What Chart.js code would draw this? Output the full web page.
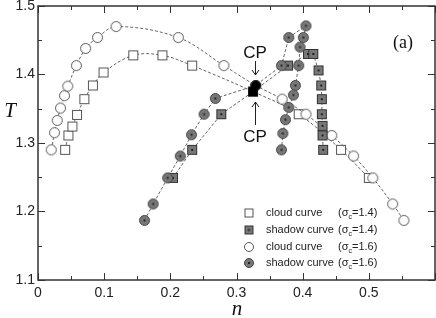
<!DOCTYPE html>
<html><head><meta charset="utf-8">
<script src="https://cdn.jsdelivr.net/npm/chart.js@4"></script>
<style>html,body{margin:0;padding:0;background:#fff}#wrap{width:436px;height:318px}</style>
</head><body><div id="wrap"><canvas id="c" width="436" height="318"></canvas></div>
<script>
// ---- data ----
const cloud14_n = [0.041,0.046,0.052,0.059,0.070,0.083,0.099,0.144,0.188,0.233,0.325,0.394,0.458,0.500];
const cloud14_T = [1.290,1.311,1.324,1.341,1.364,1.384,1.403,1.428,1.428,1.413,1.375,1.342,1.290,1.249];
const shadow14_n = [0.204,0.233,0.277,0.325,0.378,0.408,0.416,0.424,0.428,0.429,0.429,0.430,0.430,0.431];
const shadow14_T = [1.249,1.290,1.342,1.375,1.413,1.430,1.430,1.406,1.384,1.364,1.342,1.325,1.311,1.290];
const cloud16_n = [0.020,0.025,0.029,0.034,0.040,0.045,0.058,0.072,0.090,0.118,0.212,0.281,0.329,0.369,0.405,0.444,0.477,0.506,0.536,0.553];
const cloud16_T = [1.290,1.315,1.333,1.351,1.369,1.383,1.413,1.438,1.454,1.470,1.454,1.413,1.384,1.364,1.342,1.311,1.281,1.249,1.211,1.187];
const shadow16_n = [0.161,0.174,0.196,0.215,0.232,0.251,0.268,0.329,0.368,0.379,0.405,0.401,0.396,0.394,0.389,0.386,0.379,0.374,0.370,0.368];
const shadow16_T = [1.187,1.211,1.249,1.281,1.312,1.342,1.365,1.384,1.413,1.454,1.471,1.454,1.440,1.413,1.384,1.370,1.352,1.334,1.314,1.290];
const cp_n = [0.325, 0.329];
const cp_T = [1.375, 1.384];
const xTicks = [0,0.1,0.2,0.3,0.4,0.5];
const yTicks = [1.1,1.2,1.3,1.4,1.5];
const legendLabels = ["cloud curve","shadow curve","cloud curve","shadow curve"];
const legendSigma = ["1.4","1.4","1.6","1.6"];

const pts = (a,b) => a.map((v,i)=>({x:v,y:b[i]}));

function marker(shape, fill, stroke, dot, size){
  const c = document.createElement('canvas');
  c.width = size+2; c.height = size+2;
  const g = c.getContext('2d');
  const m = (size+2)/2;
  g.fillStyle = fill; g.strokeStyle = stroke; g.lineWidth = 1;
  if(shape==='rect'){ g.fillRect(1.5,1.5,size-1,size-1); g.strokeRect(1.5,1.5,size-1,size-1); }
  else { g.beginPath(); g.arc(m,m,size/2-0.5,0,Math.PI*2); g.fill(); g.stroke(); }
  if(dot){ g.fillStyle='#222'; g.fillRect(m-1,m-1,2,2); }
  return c;
}
const mOpenSq = marker('rect','#fff','#555',false,10);
const mGraySq = marker('rect','#777','#333',true,10);
const mOpenCi = marker('circle','#fff','#555',false,11);
const mGrayCi = marker('circle','#777','#444',true,11);
const mCPsq = marker('rect','#000','#000',false,9);
const mCPci = marker('circle','#000','#000',false,10);
const lMarks = [marker('rect','#fff','#555',false,9), marker('rect','#777','#333',true,9), marker('circle','#fff','#555',false,10), marker('circle','#777','#444',true,10)];

const lineStyle = {showLine:true, borderColor:'#555', borderWidth:0.9, borderDash:[3,2], fill:false};

const deco = {
  id:'deco',
  beforeDatasetsDraw(chart){
    const {ctx, chartArea:a, scales:{x,y}} = chart;
    ctx.save();
    ctx.strokeStyle='#333'; ctx.lineWidth=1;
    ctx.beginPath();
    for(let v=0; v<=0.6001; v+=0.05){
      const px = Math.round(x.getPixelForValue(v))+0.5;
      const L = (Math.round(v*100)%10===0)?7:4;
      ctx.moveTo(px,a.bottom); ctx.lineTo(px,a.bottom-L);
      ctx.moveTo(px,a.top); ctx.lineTo(px,a.top+L);
    }
    for(let v=1.1; v<=1.5001; v+=0.05){
      const py = Math.round(y.getPixelForValue(v))+0.5;
      const L = (Math.round(v*100)%10===0)?7:4;
      ctx.moveTo(a.left,py); ctx.lineTo(a.left+L,py);
      ctx.moveTo(a.right,py); ctx.lineTo(a.right-L,py);
    }
    ctx.stroke();
    ctx.restore();
  },
  afterDraw(chart){
    const {ctx, chartArea:a} = chart;
    ctx.save();
    ctx.strokeStyle='#333'; ctx.lineWidth=1.5;
    ctx.strokeRect(a.left, a.top, a.right-a.left, a.bottom-a.top);
    // axis titles
    ctx.fillStyle='#111';
    ctx.font='italic 21px "Liberation Serif", "DejaVu Serif", serif';
    ctx.textAlign='center'; ctx.textBaseline='middle';
    ctx.fillText('T', 10, 111);
    ctx.fillText('n', 237, 309);
    ctx.font='18px "Liberation Serif", serif';
    ctx.fillText('(a)', 403, 43);
    // CP labels & arrows
    ctx.font='17px "Liberation Sans", Arial, sans-serif';
    ctx.fillText('CP', 255, 53);
    ctx.fillText('CP', 255, 137);
    ctx.strokeStyle='#222'; ctx.lineWidth=1;
    ctx.beginPath();
    ctx.moveTo(255.5,61); ctx.lineTo(255.5,75);
    ctx.moveTo(252,70); ctx.lineTo(255.5,75); ctx.lineTo(259,70);
    ctx.moveTo(255.5,125); ctx.lineTo(255.5,102);
    ctx.moveTo(252,107); ctx.lineTo(255.5,102); ctx.lineTo(259,107);
    ctx.stroke();
    // legend
    const rows=[213,230,247,263];
    ctx.textAlign='left'; ctx.textBaseline='middle'; ctx.fillStyle='#222';
    rows.forEach((ry,i)=>{
      const m = lMarks[i];
      ctx.drawImage(m, 249-m.width/2, ry-m.height/2);
      ctx.font='11px "Liberation Sans", Arial, sans-serif';
      ctx.fillText(legendLabels[i], 266, ry);
      let sx = 338;
      ctx.fillText('(σ', sx, ry); sx += ctx.measureText('(σ').width;
      ctx.font='7px "Liberation Sans", Arial, sans-serif';
      ctx.fillText('c', sx, ry+4); sx += ctx.measureText('c').width;
      ctx.font='11px "Liberation Sans", Arial, sans-serif';
      ctx.fillText('=' + legendSigma[i] + ')', sx, ry);
    });
    ctx.restore();
  }
};

new Chart(document.getElementById('c'), {
  type:'scatter',
  data:{datasets:[
    Object.assign({label:'cloud14', data:pts(cloud14_n,cloud14_T), pointStyle:mOpenSq, tension:0.35, order:4}, lineStyle),
    Object.assign({label:'cloud16', data:pts(cloud16_n,cloud16_T), pointStyle:mOpenCi, tension:0.35, order:3}, lineStyle),
    Object.assign({label:'shadow14', data:pts(shadow14_n,shadow14_T), pointStyle:mGraySq, tension:0, order:2}, lineStyle),
    Object.assign({label:'shadow16', data:pts(shadow16_n,shadow16_T), pointStyle:mGrayCi, tension:0, order:1}, lineStyle),
    {label:'CP', data:pts(cp_n,cp_T), pointStyle:[mCPsq, mCPci], showLine:false, order:0}
  ]},
  options:{
    responsive:false, animation:false, devicePixelRatio:1,
    layout:{autoPadding:false, padding:{top:6,right:1,left:0,bottom:0}},
    plugins:{legend:{display:false}, tooltip:{enabled:false}},
    scales:{
      x:{type:'linear', min:0, max:0.6,
        afterBuildTicks(s){ s.ticks = xTicks.map(v=>({value:v})); },
        afterFit(s){ s.height = 38; s.paddingLeft = 0; s.paddingRight = 0; },
        grid:{display:false, drawTicks:false}, border:{display:false},
        ticks:{padding:5, color:'#222', font:{family:'"Liberation Sans", Arial, sans-serif', size:14},
          callback:v => v===0 ? '0' : v.toFixed(1)}},
      y:{type:'linear', min:1.1, max:1.5,
        afterBuildTicks(s){ s.ticks = yTicks.map(v=>({value:v})); },
        afterFit(s){ s.width = 38; s.paddingTop = 0; s.paddingBottom = 0; },
        grid:{display:false, drawTicks:false}, border:{display:false},
        ticks:{padding:3, color:'#222', font:{family:'"Liberation Sans", Arial, sans-serif', size:14},
          callback:v => v.toFixed(1)}}
    }
  },
  plugins:[deco]
});
</script></body></html>
